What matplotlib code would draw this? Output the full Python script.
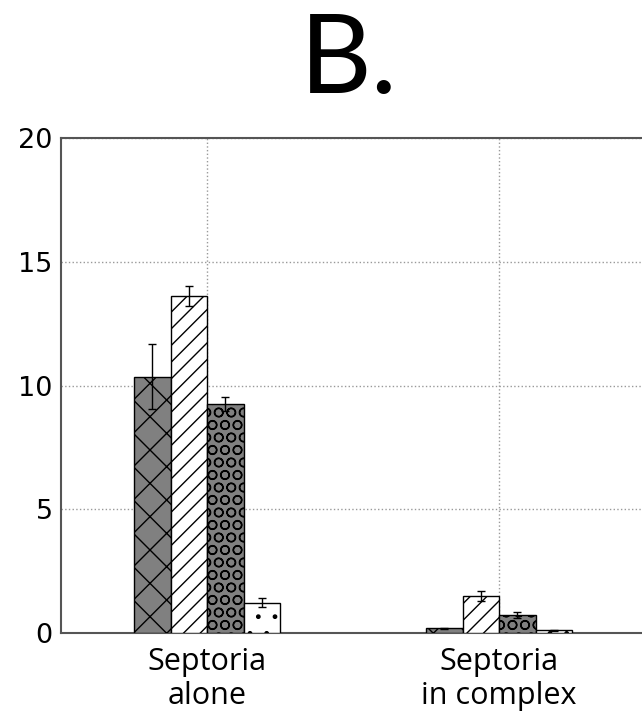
import numpy as np
import matplotlib
matplotlib.use('Agg')
import matplotlib.pyplot as plt
import matplotlib.hatch

# data
categories = ['Septoria\nalone', 'Septoria\nin complex']
means = [
    [10.36, 0.19],   # grey, cross hatch
    [13.62, 1.51],   # white, diagonal
    [9.25, 0.73],    # grey, circles
    [1.22, 0.12],    # white, dots
]
errors = [
    [1.30, 0.03],
    [0.42, 0.20],
    [0.28, 0.13],
    [0.18, 0.02],
]
colors = ['#808080', 'white', '#808080', 'white']
hatches = ['x', '//', 'O', '.']


# the circles in the reference sit a bit tighter than matplotlib's 'O'
class _TightCircles(matplotlib.hatch.LargeCircles):
    def __init__(self, hatch, density):
        super().__init__(hatch, int(round(density * 1.4)))


matplotlib.hatch._hatch_types = [
    _TightCircles if h is matplotlib.hatch.LargeCircles else h
    for h in matplotlib.hatch._hatch_types
]

plt.rcParams['hatch.linewidth'] = 1.0

fig = plt.figure(figsize=(6.42, 7.16), dpi=100)
ax = fig.add_axes([61 / 642, 1 - 633 / 716, 584 / 642, 495 / 716])

x = np.arange(len(categories))
width = 0.125
for i in range(len(means)):
    offs = (i - 1.5) * width
    ax.bar(x + offs, means[i], width, color=colors[i], edgecolor='black',
           hatch=hatches[i], linewidth=1.0, zorder=3,
           yerr=errors[i], error_kw=dict(ecolor='black', elinewidth=1.0,
                                          capsize=3, capthick=1.0, zorder=4))

ax.set_xlim(-0.5, 1.5)
ax.set_ylim(0, 20)
ax.set_yticks([0, 5, 10, 15, 20])
ax.set_xticks(x)
ax.set_xticklabels(categories, family='Open Sans', fontsize=22, linespacing=1.2)
ax.tick_params(axis='y', labelsize=19.5, length=0, pad=6)
ax.tick_params(axis='x', length=0, pad=10)
ax.grid(True, linestyle=':', color='#999999', linewidth=1.0, zorder=0)
for sp in ax.spines.values():
    sp.set_color('#555555')
    sp.set_linewidth(1.5)

fig.text(349 / 642, 1 - 93 / 716, 'B.', family='Lato', fontsize=80,
         ha='center', va='baseline')

fig.savefig('out.png', dpi=100)
